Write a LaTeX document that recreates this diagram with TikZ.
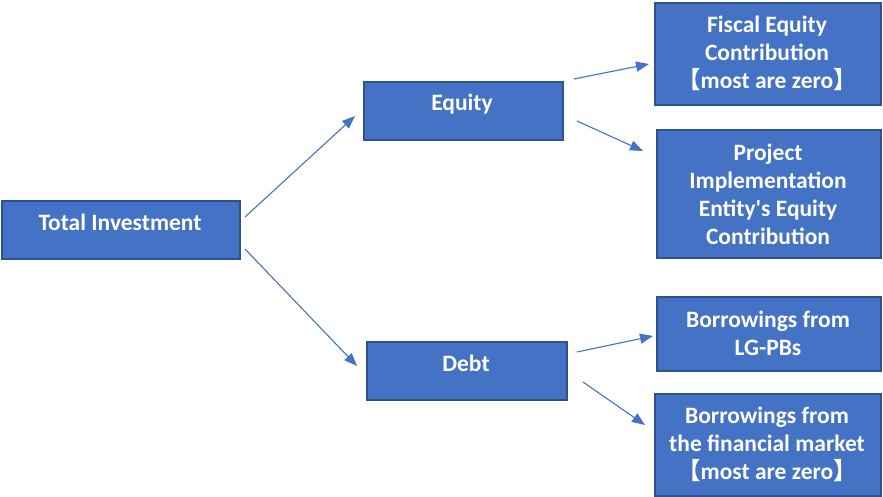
\documentclass[tikz,border=0pt]{standalone}
\usepackage{fontspec}
\setmainfont{Carlito}
\newfontfamily\cjk{Noto Sans CJK SC}
\usetikzlibrary{arrows.meta,calc}
\definecolor{boxfill}{HTML}{4472C4}
\definecolor{boxline}{HTML}{2F528F}
\begin{document}
\begin{tikzpicture}[x=1pt,y=-1pt,
  box/.style={draw=boxline, fill=boxfill, line width=2pt, rectangle, inner sep=0pt, anchor=north west},
  lbl/.style={text=white, font=\fontsize{23.5}{28}\selectfont\bfseries, align=center, inner sep=0pt},
  conn/.style={draw=boxfill, line width=1.1pt, -{Triangle[length=13pt,width=10pt]}}]
\useasboundingbox (0,0) rectangle (883,497);
% boxes
\node[box, minimum width=238pt, minimum height=58pt] (ti) at (1,200) {};
\node[box, minimum width=199pt, minimum height=58pt] (eq) at (363,81) {};
\node[box, minimum width=200pt, minimum height=58pt] (debt) at (366,341) {};
\node[box, minimum width=226pt, minimum height=102pt] (fis) at (654,2) {};
\node[box, minimum width=224pt, minimum height=128pt] (proj) at (656,129) {};
\node[box, minimum width=224pt, minimum height=74pt] (lgpb) at (656,296) {};
\node[box, minimum width=226pt, minimum height=102pt] (fm) at (654,393) {};
% labels
\node[lbl] (tiT) at (120,222) {Total Investment};
\node[lbl] (eqT) at (462,104) {Equity};
\node[lbl] (debtT) at (466,363) {Debt};
\node[lbl] (fisT) at (767,53) {Fiscal Equity\\Contribution\\{\cjk 【}most are zero{\cjk 】}};
\node[lbl] (projT) at (768,194) {Project\\Implementation\\Entity\textquotesingle s Equity\\Contribution};
\node[lbl] (lgpbT) at (768,333) {Borrowings from\\LG-PBs};
\node[lbl] (fmT) at (767,444) {Borrowings from\\the financial market\\{\cjk 【}most are zero{\cjk 】}};
% connectors
\draw[conn] ($(ti.east)+(4,-13)$) -- ($(eq.west)+(-8,5)$);
\draw[conn] ($(ti.east)+(4,19)$) -- ($(debt.west)+(-9,-5)$);
\draw[conn] ($(eq.east)+(10,-32)$) -- ($(fis.west)+(-5,10)$);
\draw[conn] ($(eq.east)+(13,10)$) -- ($(proj.west)+(-13,-43)$);
\draw[conn] ($(debt.east)+(9,-19)$) -- ($(lgpb.west)+(-3,2)$);
\draw[conn] ($(debt.east)+(15,11)$) -- ($(fm.west)+(-9,-20)$);
\end{tikzpicture}
\end{document}
